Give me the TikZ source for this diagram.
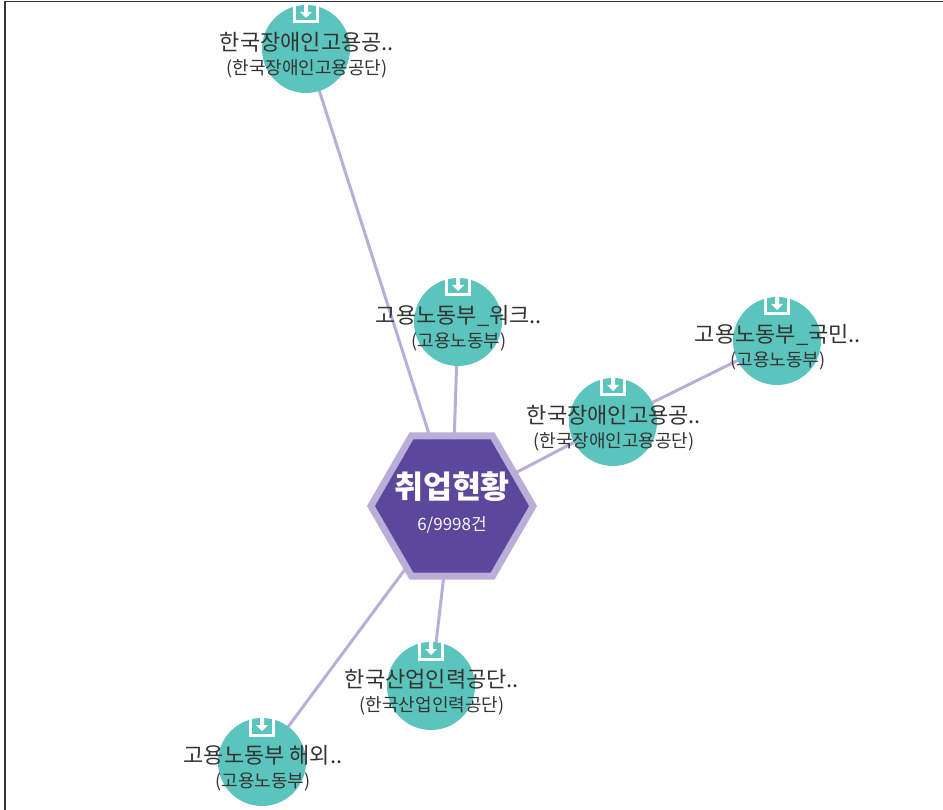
\documentclass[tikz,border=0pt]{standalone}
\usepackage{fontspec}
\usetikzlibrary{shapes.geometric,backgrounds}
\setmainfont{Noto Sans CJK KR}
\definecolor{teal1}{HTML}{5BC4BC}
\definecolor{lav}{HTML}{B9AED8}
\definecolor{deep}{HTML}{5B479C}
\definecolor{ink}{HTML}{333333}
\tikzset{
  leaf/.style={circle,fill=teal1,minimum size=88pt,inner sep=0pt,outer sep=0pt},
  hexout/.style={regular polygon,regular polygon sides=6,fill=lav,minimum size=170pt,inner sep=0pt,outer sep=0pt},
  hexin/.style={regular polygon,regular polygon sides=6,fill=deep,minimum size=154pt,inner sep=0pt,outer sep=0pt},
  link/.style={draw=lav,line width=3pt},
  ttl/.style={font=\fontsize{22}{24}\selectfont,text=ink,inner sep=0pt},
  sub/.style={font=\fontsize{18}{20}\selectfont,text=ink,inner sep=0pt},
  tray/.style={draw=white,line width=3pt,fill=none},
  dnarrow/.style={fill=white,draw=none}
}
\newcommand{\trayicon}[1]{%
  \draw[tray] ([shift={(-11.5,-44)}]#1.center) -- ([shift={(-11.5,-27)}]#1.center) -- ([shift={(11.5,-27)}]#1.center) -- ([shift={(11.5,-44)}]#1.center);
  \fill[dnarrow] ([shift={(-2,-44)}]#1.center) -- ([shift={(2,-44)}]#1.center) -- ([shift={(2,-37)}]#1.center) -- ([shift={(6,-37)}]#1.center) -- ([shift={(0,-31)}]#1.center) -- ([shift={(-6,-37)}]#1.center) -- ([shift={(-2,-37)}]#1.center) -- cycle;
}
\newcommand{\leafnode}[5]{%
  \node[leaf] (#1) at (#2,#3) {};
  \trayicon{#1}
  \node[ttl] (#1t) at (#2+1,#3-6.5) {#4};
  \node[sub] (#1s) at (#2+1,#3+20) {#5};
}
\begin{document}
\begin{tikzpicture}[x=1pt,y=-1pt]
\useasboundingbox (0,0) rectangle (943,810);
\coordinate (tl) at (5,1.5);
\coordinate (tr) at (943,1.5);
\coordinate (bl) at (5,810);
\draw[line width=1.4pt,color=ink] (bl) -- (tl) -- (tr);
\node[hexout] (hub) at (452,506) {};
\node[hexin] (hubin) at (452,506) {};
\node[font=\bfseries\fontsize{31.5}{34}\selectfont,text=white,inner sep=0pt] (hubt) at (452,487) {취업현황};
\node[font=\fontsize{17}{19}\selectfont,text=white!90!lav,inner sep=0pt] (hubs) at (452,525) {6/9998건};
\leafnode{a}{306}{49}{한국장애인고용공..}{(한국장애인고용공단)}
\leafnode{b}{458}{322}{고용노동부\_워크..}{(고용노동부)}
\leafnode{c}{777}{341}{고용노동부\_국민..}{(고용노동부)}
\leafnode{d}{613}{422}{한국장애인고용공..}{(한국장애인고용공단)}
\leafnode{e}{431}{686}{한국산업인력공단..}{(한국산업인력공단)}
\leafnode{f}{262}{762}{고용노동부 해외..}{(고용노동부)}
\begin{scope}[on background layer]
\draw[link] (hub.center) -- (a.center);
\draw[link] (hub.center) -- (b.center);
\draw[link] (hub.center) -- (d.center);
\draw[link] (d.center) -- (c.center);
\draw[link] (hub.center) -- (e.center);
\draw[link] (hub.center) -- (f.center);
\end{scope}
\end{tikzpicture}
\end{document}
